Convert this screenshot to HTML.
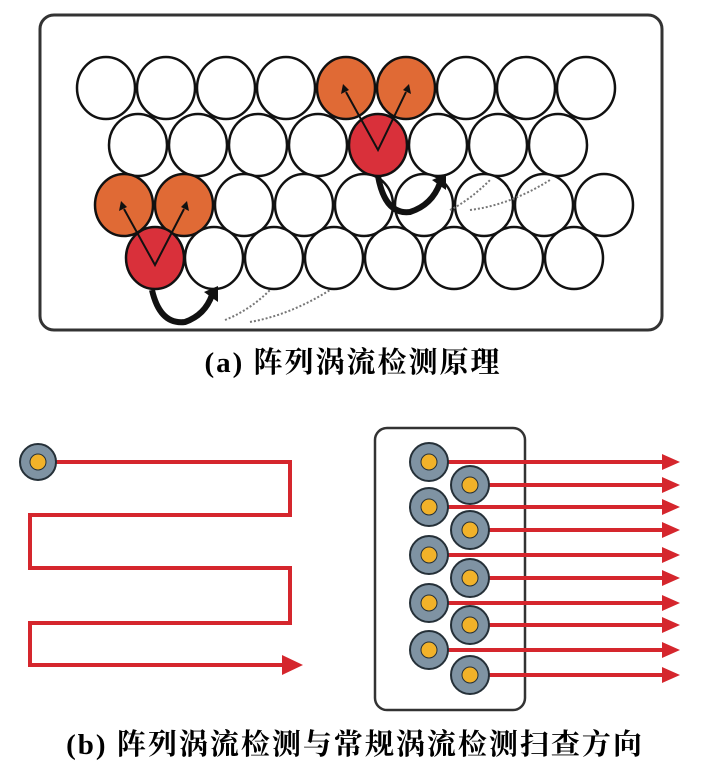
<!DOCTYPE html><html><head><style>body{margin:0;background:#fff}svg{display:block}</style></head><body>
<svg width="707" height="770" xmlns="http://www.w3.org/2000/svg">
<rect x="40" y="15" width="622" height="315" rx="14" fill="#fff" stroke="#333" stroke-width="3"/>
<g fill="#fff" stroke="#111" stroke-width="2.5">
<ellipse cx="106" cy="88" rx="29" ry="31"/><ellipse cx="166" cy="88" rx="29" ry="31"/><ellipse cx="226" cy="88" rx="29" ry="31"/><ellipse cx="286" cy="88" rx="29" ry="31"/><ellipse cx="346" cy="88" rx="29" ry="31" fill="#e06a35"/><ellipse cx="406" cy="88" rx="29" ry="31" fill="#e06a35"/><ellipse cx="466" cy="88" rx="29" ry="31"/><ellipse cx="526" cy="88" rx="29" ry="31"/><ellipse cx="586" cy="88" rx="29" ry="31"/>
<ellipse cx="138" cy="145" rx="29" ry="31"/><ellipse cx="198" cy="145" rx="29" ry="31"/><ellipse cx="258" cy="145" rx="29" ry="31"/><ellipse cx="318" cy="145" rx="29" ry="31"/><ellipse cx="438" cy="145" rx="29" ry="31"/><ellipse cx="498" cy="145" rx="29" ry="31"/><ellipse cx="558" cy="145" rx="29" ry="31"/><ellipse cx="378" cy="145" rx="29" ry="31" fill="#d9303a"/>
<ellipse cx="124" cy="205" rx="29" ry="31" fill="#e06a35"/><ellipse cx="184" cy="205" rx="29" ry="31" fill="#e06a35"/><ellipse cx="244" cy="205" rx="29" ry="31"/><ellipse cx="304" cy="205" rx="29" ry="31"/><ellipse cx="364" cy="205" rx="29" ry="31"/><ellipse cx="424" cy="205" rx="29" ry="31"/><ellipse cx="484" cy="205" rx="29" ry="31"/><ellipse cx="544" cy="205" rx="29" ry="31"/><ellipse cx="604" cy="205" rx="29" ry="31"/>
<ellipse cx="214" cy="258" rx="29" ry="31"/><ellipse cx="274" cy="258" rx="29" ry="31"/><ellipse cx="334" cy="258" rx="29" ry="31"/><ellipse cx="394" cy="258" rx="29" ry="31"/><ellipse cx="454" cy="258" rx="29" ry="31"/><ellipse cx="514" cy="258" rx="29" ry="31"/><ellipse cx="574" cy="258" rx="29" ry="31"/><ellipse cx="155" cy="258" rx="29" ry="31" fill="#d9303a"/>
</g>
<g stroke="#111" stroke-width="2" fill="none">
<path d="M346 92 L378 150 L406 92"/><path d="M124 209 L155 265 L184 209"/>
</g>
<g fill="#111"><path d="M343 84 l-2 10 l8-4z"/><path d="M409 84 l2 10 l-8-4z"/><path d="M121 201 l-2 10 l8-4z"/><path d="M187 201 l2 10 l-8-4z"/></g>
<g stroke="#111" stroke-width="6" fill="none">
<path d="M378 176 Q385 215 410 212 Q432 205 440 183"/><path d="M152 290 Q160 325 185 322 Q205 315 212 295"/>
</g>
<g fill="#111"><path d="M432 180 l14 -6 l0 16z"/><path d="M204 292 l14 -6 l0 16z"/></g>
<g stroke="#777" stroke-width="2" stroke-dasharray="2 2" fill="none">
<path d="M450 210 Q470 200 490 180"/><path d="M470 210 Q510 205 550 180"/><path d="M225 320 Q250 310 270 290"/><path d="M250 322 Q290 315 330 290"/>
</g>
<text x="353" y="372" text-anchor="middle" font-family="Liberation Serif, Noto Serif CJK SC, serif" font-size="29" letter-spacing="2" font-weight="bold">(a) 阵列涡流检测原理</text>
<polyline points="56,462 290,462 290,515 30,515 30,568 290,568 290,623 30,623 30,665 285,665" fill="none" stroke="#d5262d" stroke-width="4"/>
<path d="M282 655 L303 665 L282 675z" fill="#d5262d"/>
<rect x="375" y="428" width="150" height="282" rx="12" fill="none" stroke="#333" stroke-width="2.5"/>
<g stroke="#d5262d" stroke-width="4">
<line x1="445" y1="462" x2="668" y2="462"/><line x1="445" y1="507" x2="668" y2="507"/><line x1="445" y1="555" x2="668" y2="555"/><line x1="445" y1="603" x2="668" y2="603"/><line x1="445" y1="650" x2="668" y2="650"/>
<line x1="486" y1="485" x2="668" y2="485"/><line x1="486" y1="530" x2="668" y2="530"/><line x1="486" y1="578" x2="668" y2="578"/><line x1="486" y1="625" x2="668" y2="625"/><line x1="486" y1="675" x2="668" y2="675"/>
</g>
<g fill="#d5262d">
<path d="M662 454 l18 8 l-18 8z"/><path d="M662 477 l18 8 l-18 8z"/><path d="M662 499 l18 8 l-18 8z"/><path d="M662 522 l18 8 l-18 8z"/><path d="M662 547 l18 8 l-18 8z"/><path d="M662 570 l18 8 l-18 8z"/><path d="M662 595 l18 8 l-18 8z"/><path d="M662 617 l18 8 l-18 8z"/><path d="M662 642 l18 8 l-18 8z"/><path d="M662 667 l18 8 l-18 8z"/>
</g>
<g stroke="#253038" stroke-width="2" fill="#7f93a3">
<circle cx="38" cy="462" r="18"/>
<circle cx="429" cy="462" r="19"/><circle cx="429" cy="507" r="19"/><circle cx="429" cy="555" r="19"/><circle cx="429" cy="603" r="19"/><circle cx="429" cy="650" r="19"/>
<circle cx="470" cy="485" r="19"/><circle cx="470" cy="530" r="19"/><circle cx="470" cy="578" r="19"/><circle cx="470" cy="625" r="19"/><circle cx="470" cy="675" r="19"/>
</g>
<g fill="#f2b229" stroke="#253038" stroke-width="1">
<circle cx="38" cy="462" r="8"/>
<circle cx="429" cy="462" r="8"/><circle cx="429" cy="507" r="8"/><circle cx="429" cy="555" r="8"/><circle cx="429" cy="603" r="8"/><circle cx="429" cy="650" r="8"/>
<circle cx="470" cy="485" r="8"/><circle cx="470" cy="530" r="8"/><circle cx="470" cy="578" r="8"/><circle cx="470" cy="625" r="8"/><circle cx="470" cy="675" r="8"/>
</g>
<text x="355" y="754" text-anchor="middle" font-family="Liberation Serif, Noto Serif CJK SC, serif" font-size="29" letter-spacing="2" font-weight="bold">(b) 阵列涡流检测与常规涡流检测扫查方向</text>
</svg>
</body></html>
